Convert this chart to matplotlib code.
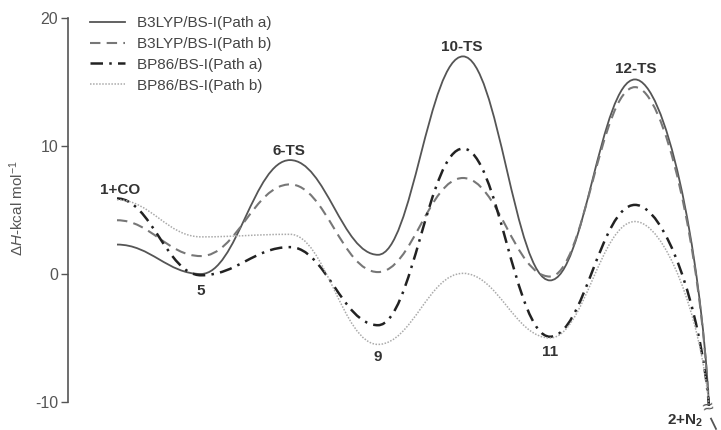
import matplotlib
matplotlib.use("Agg")
import matplotlib.pyplot as plt
from matplotlib.path import Path
from matplotlib.patches import PathPatch
from matplotlib.lines import Line2D

plt.rcParams['font.family'] = ['Liberation Sans', 'DejaVu Sans']
plt.rcParams['mathtext.fontset'] = 'custom'
plt.rcParams['mathtext.rm'] = 'Liberation Sans'
plt.rcParams['mathtext.it'] = 'Liberation Sans:italic'
plt.rcParams['mathtext.bf'] = 'Liberation Sans:bold'

# stationary points along the reaction coordinate
stage_x = [49, 133, 222, 310, 395, 482, 567, 641]
stage_names = ['1+CO', '5', '6-TS', '9', '10-TS', '11', '12-TS', '2+N$_\\mathbf{2}$']

# relative enthalpies, kcal/mol
b3lyp_a = [2.3, 0.0, 8.9, 1.5, 17.0, -0.5, 15.2, -10.3]
b3lyp_b = [4.2, 1.4, 7.0, 0.15, 7.5, -0.2, 14.6, -10.3]
bp86_a = [5.9, -0.1, 2.1, -4.0, 9.8, -4.9, 5.4, -10.3]
bp86_b = [5.8, 2.9, 3.1, -5.5, 0.05, -5.0, 4.1, -10.3]

series_names = ['B3LYP/BS-I(Path a)', 'B3LYP/BS-I(Path b)',
                'BP86/BS-I(Path a)', 'BP86/BS-I(Path b)']
yticks = [-10, 0, 10, 20]


def profile_path(xs, ys, k=0.4):
    # smooth bezier through the points, flat at every stationary point
    verts = [(xs[0], ys[0])]
    codes = [Path.MOVETO]
    for i in range(1, len(xs)):
        x0, y0, x1, y1 = xs[i-1], ys[i-1], xs[i], ys[i]
        dx = x1 - x0
        if i == len(xs) - 1:
            c2 = (x1 - 0.12*dx, y1 + 0.5*(y0 - y1))
        else:
            c2 = (x1 - k*dx, y1)
        verts += [(x0 + k*dx, y0), c2, (x1, y1)]
        codes += [Path.CURVE4]*3
    return Path(verts, codes)


styles = [
    dict(color='#555555', linestyle='-', linewidth=1.3),
    dict(color='#777777', linestyle=(0, (5, 3)), linewidth=1.5),
    dict(color='#222222', linestyle=(0, (5, 2.5, 1, 2.5)), linewidth=1.8),
    dict(color='#aaaaaa', linestyle=(0, (1, 1)), linewidth=1.1),
]

fig = plt.figure(figsize=(7.21, 4.30), dpi=100)
ax = fig.add_axes([68/721, 28/430, 653/721, 384/430])

handles = []
for ys, st, name in zip([b3lyp_a, b3lyp_b, bp86_a, bp86_b], styles, series_names):
    p = PathPatch(profile_path(stage_x, ys), fill=False, clip_on=False,
                  edgecolor=st['color'], linestyle=st['linestyle'],
                  linewidth=st['linewidth'], capstyle='butt')
    ax.add_patch(p)
    handles.append(Line2D([], [], **st))

# broken tail below the axis end
ax.plot([stage_x[-1] + 2, stage_x[-1] + 7], [b3lyp_a[-1] - 1.0, b3lyp_a[-1] - 1.8],
        color='#555555', linewidth=1.3, clip_on=False)
ax.text(stage_x[-1] - 1, b3lyp_a[-1] - 0.2, '≈', fontsize=14, color='#555555',
        ha='center', va='center', rotation=15, clip_on=False)

# stationary point labels
label_pos = [(52, 6.6), (133, -1.3), (221, 9.6), (310, -6.5),
             (394, 17.7), (482, -6.1), (568, 16.0), (617, -11.5)]
for (lx, ly), name in zip(label_pos, stage_names):
    ax.text(lx, ly, name, fontsize=11, fontweight='bold', color='#333333',
            ha='center', va='center', clip_on=False)

ax.set_xlim(0, 653)
ax.set_ylim(-10, 20)
ax.set_yticks(yticks)
ax.set_yticklabels([str(t) for t in yticks])
ax.tick_params(axis='y', direction='out', length=5, width=1, pad=2,
               colors='#555555', labelsize=11.5)
ax.set_xticks([])
for s in ['top', 'right', 'bottom']:
    ax.spines[s].set_visible(False)
ax.spines['left'].set_color('#555555')
ax.spines['left'].set_linewidth(1.2)

ax.set_ylabel('$\\Delta H$-kcal mol$^{-1}$', fontsize=11, color='#555555')
ax.yaxis.set_label_coords(-0.064, 0.505)

ax.legend(handles, series_names, loc='upper left', bbox_to_anchor=(22/653, 1.005),
          frameon=False, fontsize=11, handlelength=2.3, handletextpad=0.8,
          labelspacing=0.45, borderpad=0, borderaxespad=0, labelcolor='#444444')

fig.savefig('out.png', dpi=100)
